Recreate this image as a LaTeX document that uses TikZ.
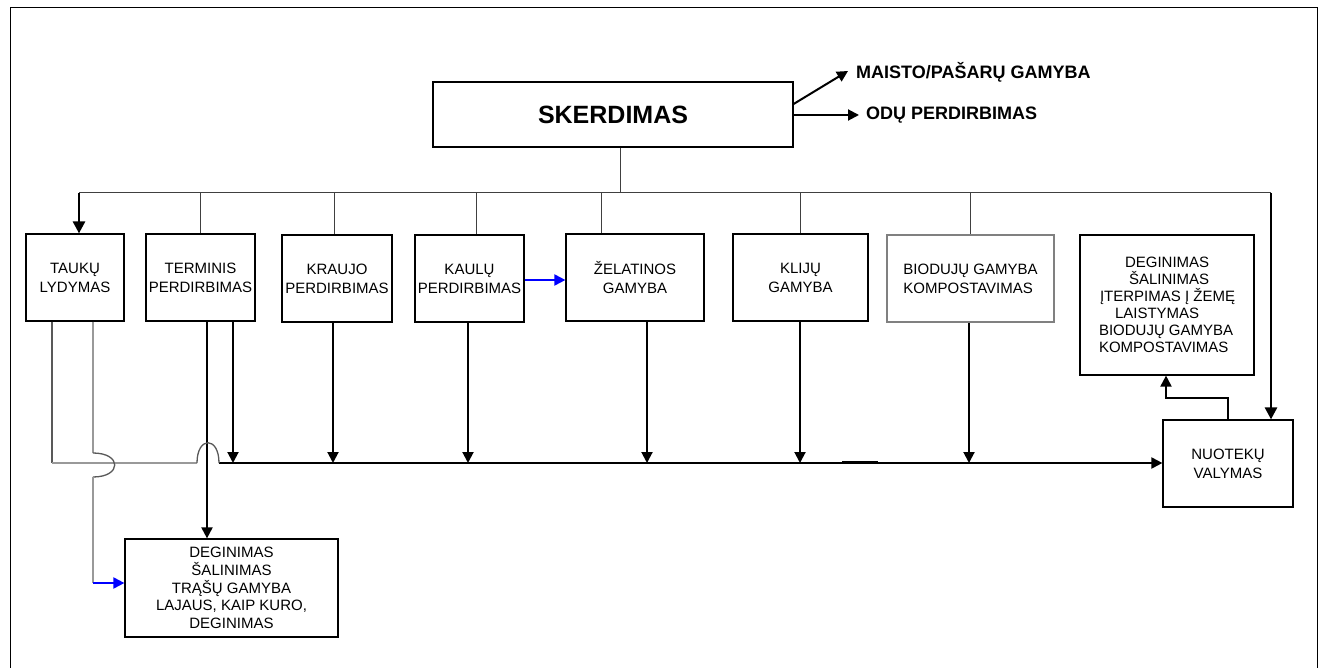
\documentclass[tikz,border=0pt]{standalone}
\usepackage{fontspec}
\setmainfont{Liberation Sans}
\usetikzlibrary{arrows.meta}
\begin{document}
\begin{tikzpicture}[x=1pt,y=-1pt,
  box/.style={draw, line width=1.2pt, inner sep=0pt, align=center, font=\fontsize{15}{19}\selectfont},
  lab/.style={inner sep=0pt, anchor=west, font=\bfseries\fontsize{18}{20}\selectfont},
  busline/.style={line width=1pt, draw=black!75},
  flow/.style={line width=2pt, -{Triangle[length=11pt,width=11pt]}},
  bigflow/.style={line width=2.6pt, -{Triangle[length=12pt,width=12pt]}},
  blueflow/.style={line width=2pt, draw={rgb,255:red,0;green,0;blue,255}, -{Triangle[length=11pt,width=11pt]}, color={rgb,255:red,0;green,0;blue,255}},
  darkgray/.style={line width=1.3pt, draw=black!65},
  lightgray/.style={line width=1.3pt, draw=black!40}]
\useasboundingbox (0,0) rectangle (1322,668);
\fill[white] (0,0) rectangle (1322,668);
\draw[line width=1pt] (10,668) -- (10,8) -- (1317,8) -- (1317,668);

% boxes
\node[box, minimum width=360pt, minimum height=65pt, font=\bfseries\fontsize{25}{30}\selectfont] (sk) at (613,114.5) {SKERDIMAS};
\node[box, minimum width=98pt, minimum height=87pt] (tauk) at (75,277.5) {TAUKŲ\\LYDYMAS};
\node[box, minimum width=109pt, minimum height=87pt] (term) at (200.5,277.5) {TERMINIS\\PERDIRBIMAS};
\node[box, minimum width=110pt, minimum height=87pt] (krau) at (337,278.5) {KRAUJO\\PERDIRBIMAS};
\node[box, minimum width=109pt, minimum height=87pt] (kaul) at (469.5,278.5) {KAULŲ\\PERDIRBIMAS};
\node[box, minimum width=138pt, minimum height=87pt] (zel) at (635,277.5) {ŽELATINOS\\GAMYBA};
\node[box, minimum width=135pt, minimum height=87pt] (klij) at (800.5,277.5) {KLIJŲ\\GAMYBA};
\node[box, draw=black!50, align=left, minimum width=167pt, minimum height=87pt] (biod) at (970.5,278.5) {BIODUJŲ GAMYBA\\KOMPOSTAVIMAS};
\node[box, align=left, minimum width=174pt, minimum height=140pt, font=\fontsize{15}{17}\selectfont] (degR) at (1167,305)
  {\hspace*{26pt}DEGINIMAS\\\hspace*{30pt}ŠALINIMAS\\\hspace*{1pt}ĮTERPIMAS Į ŽEMĘ\\\hspace*{16pt}LAISTYMAS\\BIODUJŲ GAMYBA\\KOMPOSTAVIMAS};
\node[box, minimum width=130pt, minimum height=87pt] (nuot) at (1228,463.5) {NUOTEKŲ\\VALYMAS};
\node[box, minimum width=213pt, minimum height=98pt, font=\fontsize{15}{17.75}\selectfont] (degB) at (231.5,588)
  {DEGINIMAS\\ŠALINIMAS\\TRĄŠŲ GAMYBA\\LAJAUS, KAIP KURO,\\DEGINIMAS};

% labels at the top right
\node[lab] (maisto) at (856,72) {MAISTO/PAŠARŲ GAMYBA};
\node[lab] (odu) at (866,115) {ODŲ PERDIRBIMAS};
\coordinate (s1) at (793,104);
\coordinate (s2) at (793,115);
\coordinate (mt) at (848,71);
\coordinate (ot) at (859,115);
\draw[flow] (sk.east |- s1) -- (mt);
\draw[flow] (sk.east |- s2) -- (ot);

% distribution bus
\coordinate (b0) at (620,193);
\coordinate (bL) at (79,193);
\coordinate (bR) at (1271,193);
\draw[busline] (sk.south -| b0) -- (b0);
\draw[busline] (bL) -- (bR);
\draw[bigflow] (bL) -- (tauk.north -| bL);
\draw[bigflow] (bR) -- (nuot.north -| bR);
\coordinate (d1) at (200,193);
\coordinate (d2) at (334,193);
\coordinate (d3) at (476,193);
\coordinate (d4) at (601,193);
\coordinate (d5) at (800,193);
\coordinate (d6) at (970,193);
\draw[busline] (d1) -- (term.north -| d1);
\draw[busline] (d2) -- (krau.north -| d2);
\draw[busline] (d3) -- (kaul.north -| d3);
\draw[busline] (d4) -- (zel.north -| d4);
\draw[busline] (d5) -- (klij.north -| d5);
\draw[busline] (d6) -- (biod.north -| d6);

% main collecting line
\coordinate (m0) at (219,463);
\draw[flow] (m0) -- (m0 -| nuot.west);
\draw[line width=3pt] (842,462) -- (878,462);
\coordinate (e1) at (233,463);
\coordinate (e2) at (333,463);
\coordinate (e3) at (468,463);
\coordinate (e4) at (647,463);
\coordinate (e5) at (800,463);
\coordinate (e6) at (969,463);
\draw[flow] (term.south -| e1) -- (e1);
\draw[flow] (krau.south -| e2) -- (e2);
\draw[flow] (kaul.south -| e3) -- (e3);
\draw[flow] (zel.south -| e4) -- (e4);
\draw[flow] (klij.south -| e5) -- (e5);
\draw[flow] (biod.south -| e6) -- (e6);

% TERMINIS -> bottom box
\coordinate (tx) at (207,463);
\draw[flow] (term.south -| tx) -- (degB.north -| tx);

% TAUKU lines with hops
\coordinate (h0) at (52,463);
\coordinate (h1) at (197,463);
\draw[darkgray] (tauk.south -| h0) -- (h0);
\draw[lightgray] (h0) -- (h1);
\draw[darkgray] (h1) .. controls (197,436) and (219,436) .. (m0);
\coordinate (v0) at (93,453);
\coordinate (v1) at (93,477);
\coordinate (v2) at (93,583);
\draw[lightgray] (tauk.south -| v0) -- (v0);
\draw[darkgray] (v0) .. controls (122,453) and (122,477) .. (v1);
\draw[lightgray] (v1) -- (v2);
\draw[blueflow] (v2) -- (v2 -| degB.west);

% KAULU -> ZELATINOS
\coordinate (kz) at (524,280);
\draw[blueflow] (kaul.east |- kz) -- (zel.west |- kz);

% NUOTEKU -> right box
\coordinate (n0) at (1228,398);
\coordinate (n1) at (1166,398);
\draw[flow] (nuot.north -| n0) -- (n0) -- (n1) -- (degR.south -| n1);
\end{tikzpicture}
\end{document}
